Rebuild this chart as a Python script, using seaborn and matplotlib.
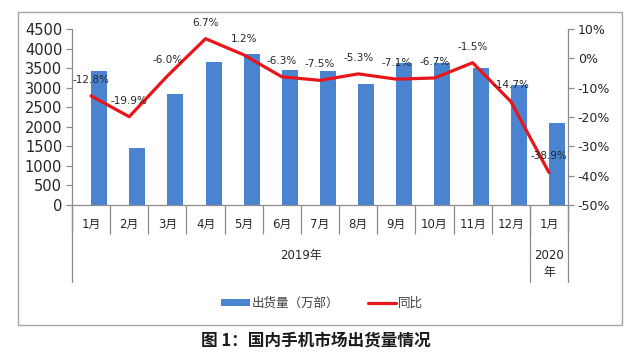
import matplotlib
matplotlib.use("Agg")

import matplotlib.pyplot as plt
import numpy as np
import pandas as pd
import seaborn as sns
from matplotlib.lines import Line2D
from matplotlib.patches import Patch, Rectangle
from matplotlib.ticker import FuncFormatter

# ---------------- 数据 ----------------
months = ["1月", "2月", "3月", "4月", "5月", "6月", "7月", "8月", "9月",
          "10月", "11月", "12月", "1月"]
years = ["2019"] * 12 + ["2020"]
shipments = [3420, 1460, 2840, 3655, 3850, 3445, 3430, 3100, 3640,
             3620, 3500, 3070, 2095]  # 出货量（万部）
yoy = [-12.8, -19.9, -6.0, 6.7, 1.2, -6.3, -7.5, -5.3, -7.1,
       -6.7, -1.5, -14.7, -38.9]  # 同比 %

BAR_COLOR = "#4a84d0"
LINE_COLOR = "#e8161b"
GRAY = "#8c8c8c"
TXT = "#262626"

keys = [f"{y}-{m}" for y, m in zip(years, months)]
df = pd.DataFrame({
    "key": keys * 2,
    "系列": ["_空"] * len(keys) + ["出货量（万部）"] * len(keys),
    "值": [0] * len(keys) + shipments,
})

sns.set_theme(style="white")
plt.rcParams["font.family"] = ["DejaVu Sans", "Noto Sans CJK SC"]
plt.rcParams["axes.unicode_minus"] = False

fig = plt.figure(figsize=(6.4, 3.54), dpi=100)
fig.patch.set_facecolor("white")
ax = fig.add_axes([72 / 640, 1 - 205 / 354, (568 - 72) / 640, 176 / 354])

# 柱子位于类别右半部分（Excel 的双系列排布）
sns.barplot(data=df, x="key", y="值", hue="系列",
            hue_order=["_空", "出货量（万部）"], order=keys,
            palette=["white", BAR_COLOR], width=0.84, ax=ax,
            legend=False, saturation=1, linewidth=0)

ax.set_ylim(0, 4500)
ax.set_xlim(-0.5, len(keys) - 0.5)
ax.set_yticks(np.arange(0, 4501, 500))
ax.set_xlabel("")
ax.set_ylabel("")
ax.set_xticks(range(len(keys)))
ax.set_xticklabels(months)
ax.set_xticks(np.arange(len(keys) + 1) - 0.5, minor=True)
ax.tick_params(axis="x", which="major", length=0, pad=9,
               labelsize=8.5, labelcolor=TXT)
ax.tick_params(axis="x", which="minor", length=21, width=0.9,
               color=GRAY, direction="out", bottom=True)
ax.tick_params(axis="y", length=4, width=0.9, color=GRAY,
               direction="out", left=True, labelsize=10.5, labelcolor=TXT, pad=3)
for s in ["top", "right"]:
    ax.spines[s].set_visible(False)
for s in ["left", "bottom"]:
    ax.spines[s].set_color(GRAY)
    ax.spines[s].set_linewidth(0.9)

# 年份分组分隔线
for xb in [-0.5, 11.5, 12.5]:
    ax.axvline(xb, ymin=-77 / 176, ymax=0, color=GRAY, lw=0.9, clip_on=False)

trans = ax.get_xaxis_transform()
ax.text(5.5, -50 / 176, "2019年", transform=trans, ha="center", va="center",
        fontsize=8.5, color=TXT)
ax.text(12, -59 / 176, "2020\n年", transform=trans, ha="center", va="center",
        fontsize=8.5, color=TXT, linespacing=1.45)

# 同比折线
ax2 = ax.twinx()
sns.lineplot(x=np.arange(len(keys)), y=yoy, ax=ax2, color=LINE_COLOR,
             linewidth=2.3, sort=False)
ax2.set_ylim(-50, 10)
ax2.set_yticks(np.arange(-50, 11, 10))
ax2.yaxis.set_major_formatter(FuncFormatter(lambda v, _: f"{v:.0f}%"))
ax2.tick_params(axis="y", length=4, width=0.9, color=GRAY, direction="out",
                right=True, labelsize=9, labelcolor=TXT, pad=3)
for s in ["top", "left", "bottom"]:
    ax2.spines[s].set_visible(False)
ax2.spines["right"].set_color(GRAY)
ax2.spines["right"].set_linewidth(0.9)

for i, v in enumerate(yoy):
    ax2.annotate(f"{v:.1f}%", (i, v), xytext=(0, 11.5),
                 textcoords="offset points", ha="center", va="center",
                 fontsize=7.5, color=TXT)

# 图例
handles = [Patch(facecolor=BAR_COLOR, edgecolor="none"),
           Line2D([0], [0], color=LINE_COLOR, lw=2.3)]
fig.legend(handles, ["出货量（万部）", "同比"], loc="center",
           bbox_to_anchor=(322 / 640, 1 - 303 / 354), ncol=2, frameon=False,
           fontsize=9, handlelength=2.3, handleheight=0.5,
           handletextpad=0.1, columnspacing=2.3, labelcolor="#404040")

# 外框
fig.patches.append(Rectangle((18 / 640, 1 - 325 / 354), 604 / 640, 313 / 354,
                             transform=fig.transFigure, fill=False,
                             edgecolor="#a6a6a6", linewidth=1.0, figure=fig))

fig.text(316 / 640, 1 - 340 / 354, "图 1：国内手机市场出货量情况",
         ha="center", va="center", fontsize=12, fontweight="bold",
         color="#1a1a1a", family=["Noto Sans CJK SC", "DejaVu Sans"])

fig.savefig("out.png", dpi=100)
